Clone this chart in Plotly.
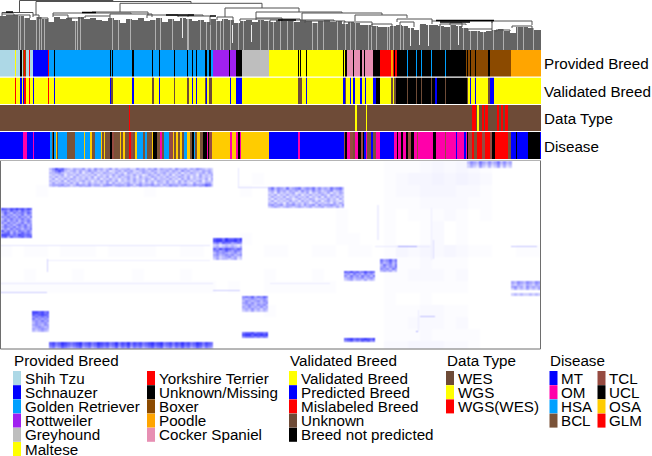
import numpy as np
import plotly.graph_objects as go

W, H = 652, 456
N = 541

# ---------- legend categories ----------
provided_names = {"ST": "Shih Tzu", "SC": "Schnauzer", "GR": "Golden Retriever", "RO": "Rottweiler",
                  "GH": "Greyhound", "MA": "Maltese", "YT": "Yorkshire Terrier", "UN": "Unknown/Missing",
                  "BX": "Boxer", "PO": "Poodle", "CS": "Cocker Spaniel"}
provided_colors = {"ST": "#add8e6", "SC": "#0000ff", "GR": "#00a0ff", "RO": "#a020f0", "GH": "#bebebe",
                   "MA": "#ffff00", "YT": "#ff0000", "UN": "#000000", "BX": "#8b4a00", "PO": "#ffa500",
                   "CS": "#e78fb3"}
validated_names = {"VB": "Validated Breed", "PB": "Predicted Breed", "ML": "Mislabeled Breed",
                   "UK": "Unknown", "NP": "Breed not predicted"}
validated_colors = {"VB": "#ffff00", "PB": "#0000ff", "ML": "#ff0000", "UK": "#6e4b37", "NP": "#000000"}
datatype_names = {"WES": "WES", "WGS": "WGS", "WW": "WGS(WES)"}
datatype_colors = {"WES": "#6e4b37", "WGS": "#ffff00", "WW": "#ff0000"}
disease_names = {"MT": "MT", "OM": "OM", "HSA": "HSA", "BCL": "BCL", "TCL": "TCL", "UCL": "UCL",
                 "OSA": "OSA", "GLM": "GLM"}
disease_colors = {"MT": "#0000ff", "OM": "#ff00aa", "HSA": "#00a0ff", "BCL": "#7a5238", "TCL": "#964b41",
                  "UCL": "#000000", "OSA": "#ffcc00", "GLM": "#ff0000"}

# ---------- annotation tracks: (category, last sample of the run) ----------
provided_runs = [("ST", 15), ("MA", 16), ("ST", 20), ("UN", 22), ("ST", 23), ("BX", 24), ("YT", 25), ("BX", 26),
                 ("ST", 29), ("YT", 30), ("ST", 33), ("SC", 48), ("YT", 49), ("GR", 54), ("UN", 55), ("GR", 110),
                 ("UN", 111), ("GR", 112), ("UN", 113), ("GR", 132), ("UN", 134), ("GR", 152), ("UN", 153),
                 ("GR", 159), ("UN", 160), ("GR", 174), ("UN", 175), ("GR", 187), ("UN", 188), ("GR", 192),
                 ("UN", 193), ("GR", 196), ("UN", 197), ("GR", 205), ("UN", 207), ("GR", 209), ("UN", 211),
                 ("GR", 213), ("RO", 229), ("UN", 230), ("RO", 236), ("UN", 242), ("GH", 269), ("MA", 298),
                 ("UN", 299), ("MA", 300), ("UN", 301), ("MA", 306), ("UN", 307), ("MA", 343), ("UN", 344),
                 ("MA", 345), ("UN", 347), ("CS", 353), ("UN", 354), ("CS", 360), ("UN", 362), ("CS", 364),
                 ("UN", 365), ("CS", 373), ("UN", 380), ("YT", 391), ("PO", 393), ("YT", 394), ("UN", 395),
                 ("YT", 397), ("UN", 407), ("GR", 408), ("UN", 416), ("GR", 417), ("UN", 421), ("GR", 422),
                 ("UN", 431), ("GR", 432), ("UN", 445), ("GR", 446), ("UN", 466), ("BX", 467), ("UN", 468),
                 ("BX", 470), ("UN", 471), ("BX", 475), ("UN", 476), ("BX", 488), ("UN", 490), ("BX", 511),
                 ("PO", 541)]
validated_runs = [("VB", 15), ("ML", 16), ("VB", 20), ("PB", 22), ("VB", 23), ("PB", 24), ("ML", 26), ("VB", 29),
                  ("ML", 30), ("VB", 33), ("PB", 34), ("VB", 48), ("ML", 49), ("VB", 54), ("PB", 55), ("VB", 110),
                  ("PB", 111), ("UK", 113), ("VB", 132), ("PB", 134), ("VB", 152), ("UK", 154), ("VB", 159),
                  ("PB", 160), ("VB", 174), ("UK", 175), ("VB", 187), ("UK", 189), ("VB", 192), ("PB", 193),
                  ("VB", 196), ("PB", 197), ("VB", 205), ("UK", 206), ("PB", 207), ("VB", 209), ("UK", 212),
                  ("VB", 230), ("PB", 231), ("VB", 236), ("PB", 242), ("VB", 298), ("UK", 302), ("VB", 306),
                  ("PB", 307), ("VB", 343), ("PB", 345), ("UK", 346), ("VB", 350), ("PB", 351), ("VB", 353),
                  ("PB", 355), ("VB", 360), ("PB", 362), ("VB", 365), ("PB", 366), ("VB", 373), ("PB", 376),
                  ("NP", 380), ("VB", 391), ("UK", 393), ("VB", 394), ("UK", 396), ("NP", 407), ("UK", 408),
                  ("NP", 416), ("UK", 417), ("NP", 421), ("UK", 422), ("NP", 431), ("UK", 432), ("NP", 435),
                  ("PB", 437), ("NP", 445), ("UK", 446), ("NP", 467), ("UK", 468), ("VB", 470), ("PB", 471),
                  ("VB", 475), ("PB", 476), ("VB", 488), ("UK", 490), ("PB", 494), ("VB", 541)]
datatype_runs = [("WES", 129), ("WW", 130), ("WES", 355), ("WGS", 357), ("WES", 366), ("WGS", 367), ("WES", 472),
                 ("WW", 476), ("WES", 477), ("WGS", 479), ("WES", 482), ("WW", 484), ("WES", 485), ("WW", 488),
                 ("WES", 497), ("WW", 499), ("WES", 501), ("WW", 503), ("WES", 505), ("WW", 508), ("WES", 541)]
disease_runs = [("MT", 23), ("OM", 27), ("MT", 33), ("OM", 34), ("MT", 50), ("HSA", 52), ("BCL", 53), ("UCL", 54),
                ("HSA", 56), ("OSA", 57), ("BCL", 58), ("HSA", 67), ("BCL", 75), ("HSA", 84), ("OSA", 85),
                ("HSA", 90), ("OSA", 92), ("BCL", 95), ("HSA", 101), ("OSA", 102), ("BCL", 104), ("OSA", 105),
                ("BCL", 110), ("UCL", 112), ("TCL", 114), ("BCL", 120), ("OSA", 121), ("BCL", 123), ("OSA", 125),
                ("BCL", 129), ("GLM", 131), ("TCL", 133), ("BCL", 135), ("OSA", 137), ("HSA", 143), ("BCL", 145),
                ("HSA", 147), ("BCL", 152), ("OSA", 153), ("UCL", 157), ("BCL", 160), ("OM", 162), ("BCL", 164),
                ("HSA", 169), ("TCL", 173), ("OSA", 174), ("BCL", 176), ("OSA", 178), ("BCL", 180), ("OSA", 182),
                ("BCL", 184), ("HSA", 187), ("OSA", 190), ("BCL", 192), ("UCL", 194), ("HSA", 195), ("BCL", 197),
                ("OSA", 200), ("BCL", 203), ("UCL", 207), ("OM", 208), ("UCL", 209), ("TCL", 212), ("OSA", 230),
                ("OM", 232), ("OSA", 236), ("OM", 238), ("UCL", 240), ("OM", 241), ("OSA", 269), ("MT", 298),
                ("OM", 300), ("MT", 344), ("TCL", 345), ("UCL", 347), ("OM", 350), ("TCL", 353), ("BCL", 355),
                ("OM", 358), ("UCL", 361), ("TCL", 363), ("UCL", 364), ("MT", 366), ("OM", 367), ("BCL", 371),
                ("MT", 373), ("BCL", 376), ("OM", 380), ("MT", 394), ("OM", 397), ("UCL", 398), ("OM", 401),
                ("UCL", 403), ("OM", 406), ("UCL", 408), ("TCL", 411), ("UCL", 414), ("OM", 417), ("TCL", 418),
                ("OM", 433), ("UCL", 436), ("OM", 445), ("TCL", 446), ("OM", 456), ("MT", 457), ("OM", 464),
                ("MT", 466), ("OM", 467), ("UCL", 468), ("TCL", 472), ("GLM", 474), ("BCL", 477), ("GLM", 482),
                ("TCL", 485), ("GLM", 490), ("TCL", 492), ("UCL", 495), ("GLM", 508), ("BCL", 511), ("MT", 516),
                ("UCL", 517), ("MT", 528), ("UCL", 540), ("MT", 541)]

# ---------- dendrogram, read in picture rows from the top ----------
# one merge per entry: left leg x, right leg x, bar y, left leg foot, right leg foot
merges = [(19.5, 113, 0.5, 12, 1.5), (36, 191, 1.5, 15, 3.3), (120, 262, 3.3, 12, 8), (225, 299, 8, 17, 12),
          (256, 342, 12, 18, 13), (302, 382, 13, 20, 15), (355, 407, 15, 21, 18),
          (2, 33, 12.5, 14, 15), (2, 14, 14, 16, 15), (14, 30, 15, 16, 18), (33, 39, 15, 17, 18), (39, 48, 18, 19, 22),
          (92, 148, 12, 13, 15), (53, 131, 13, 15, 14), (53, 68, 15, 17, 18), (68, 82, 18, 20, 19),
          (110, 152, 14, 16, 17), (85, 110, 16, 18, 18), (147, 178, 15, 18, 16), (178, 210, 16, 17, 25),
          (188, 203, 15, 17, 16), (217, 233, 17, 20, 20), (240, 300, 19, 21, 20), (256, 282, 18, 20, 21),
          (270, 334, 20, 22, 21), (305, 345, 21, 23, 22), (344, 372, 22, 24, 25), (372, 392, 24, 27, 27),
          (397, 432, 19, 22, 21), (400, 414, 22, 25, 27), (432, 492, 21, 24, 23), (440, 466, 24, 26, 25),
          (450, 462, 23, 25, 27), (492, 532, 21, 29, 25), (468, 492, 29, 31, 31), (496, 510, 30, 32, 31),
          (512, 532, 26, 28, 28)]
# stretches where many bars pile up and read as black: first x, last x, y
black_bars = [(6, 13, 12), (82, 96, 12.5), (166, 194, 15), (210, 216, 16), (278, 296, 20), (436, 494, 20.5),
              (440, 470, 22)]
# leaf tops, one reading for every 6 samples
leaf_tops = [16, 15, 15, 16, 18, 20, 17, 19, 22, 17, 19, 18, 21, 17, 19, 18, 20, 21, 18, 20, 23, 19, 20, 18,
             21, 20, 18, 22, 19, 21, 18, 19, 21, 20, 22, 19, 21, 19, 20, 23, 21, 20, 22, 20, 21, 22, 20, 21,
             21, 22, 20, 21, 23, 21, 20, 22, 21, 24, 22, 23, 25, 25, 26, 27, 27, 26, 25, 26, 28, 30, 24, 25,
             25, 26, 27, 25, 26, 28, 31, 31, 32, 31, 30, 29, 31, 33, 27, 27, 28, 30, 30]
light_leaves = [18, 20, 24, 36, 39, 41, 44, 75, 77, 80, 112, 118, 130, 155, 160, 172, 187, 188, 200, 206, 210, 216,
                220, 223, 230, 238, 243, 260, 268, 273, 280, 287, 293, 312, 317, 323, 337, 345, 350, 355, 368, 371,
                376, 387, 389, 393, 400, 403, 440, 450, 463, 470, 477, 483, 493, 503, 517, 523, 533]
pale_x = [182, 232, 251, 410, 419, 428, 458]
pale_top = [17, 25, 25, 28, 25, 25, 25]
pale_foot = [38, 43, 42, 46, 45, 46, 45]

# ---------- main matrix ----------
# blocks by sample range and row range; each block's shade is estimated cell by cell (0 pale .. 9 deep)
block_samples = [(49, 213), (268, 344), (1, 32), (213, 242), (242, 268), (242, 268), (32, 49), (49, 213),
                 (467, 512), (380, 397), (344, 375), (344, 375), (511, 541), (511, 541)]
block_rows = [(7, 26), (26, 47), (47, 77), (77, 99), (135, 151), (171, 177), (150, 171), (181, 188),
              (0, 7), (98, 111), (110, 120), (177, 181), (120, 129), (132, 135)]
golden_top = ["3586743243352425342352423342253424352433425334243543232",
              "2468632342423534232412342434223432432334243253423324342",
              "3345323232413242324332423143232433242342332413243234243",
              "2323413324232324132324234232423124324232413242323142324",
              "3242323142323241332413242342314232432324232432413242323",
              "2413242432324232413242313242423243142332423142423232414",
              "3232414232342313242432413232423142324324231424232341323",
              "2423332424132423232414232342324232413324232423214232442",
              "3444534235443534424553444354245344534243544345335445763",
              "2324343232434423334322343342324332343323434232333243542"]
maltese = ["46354363456345463534364563",
           "34253424342534253423452342",
           "23142323412324132432413243",
           "32413242324132423243143232",
           "24232413242324132414232423",
           "31423243124232431232423142",
           "24132324231423242413423213",
           "32423142423243124232314243",
           "45345244534253452534454325",
           "23432343234323423342332423"]
shih_tzu = ["87687978687", "56475647564", "47536456475", "36453546354", "54645364536",
            "35464546453", "46354635464", "53645346354", "36453564635", "46546354645",
            "35364653546", "74645365464", "56736457564", "88756587676", "67475567567"]
rottweiler = ["7886977879", "8997988978", "5647664565", "2312323212", "3423434324",
              "7586876576", "5645754654", "3545434534", "4534545345", "3423453423", "2423323412"]
greyhound_a = ["565746575", "434543453", "354345354", "453534345", "345435453", "435343534", "343534243", "232423232"]
greyhound_b = ["677867767", "899798989", "566656565"]
schnauzer = ["887867", "767876", "565656", "645454", "454645", "354453", "454354", "345434", "434543", "323432"]
golden_low = ["7867987678967867987867968796878678978967868797867986876",
              "6756876567856756876756857685767567867856757686756875765",
              "4534654345634534654534635463545345645634535464534653543"]
poodle_top = ["354364353463534", "243253242352423", "232142131241312"]
boxer_mid = ["645746", "534635", "364536", "453546", "545364", "343423"]
cocker_a = ["76867568676", "45364536453", "53645364536", "34534453453", "23423324232"]
cocker_b = ["78978789879", "56756576756"]
poodle_a = ["4354354354", "3243243243", "4534253434", "2423242324"]
poodle_b = ["2323223232"]
block_cells = [golden_top, maltese, shih_tzu, rottweiler, greyhound_a, greyhound_b, schnauzer, golden_low,
               poodle_top, boxer_mid, cocker_a, cocker_b, poodle_a, poodle_b]

# background tint, one digit for every 12 samples by 12 rows
background = ["000000000000000000000000000000001112323210000",
              "000000000000000000000100000000001233434320000",
              "000100000000100000001000000000001223332210000",
              "000000000000000000000000000000001112222110000",
              "000000000000000000000000000010001011121010000",
              "000000000000000000000000000010001001201000000",
              "000000000000000000001000000011001001201000000",
              "101101110111100110100011001101101323232110011",
              "000000000000000000000000000000001112111000000",
              "001000100001000100000010001000001122212000000",
              "111111111111111111010011111100001111111000000",
              "000000000000000000000000000000001001000000000",
              "000000000000000000000010000000001112211000000",
              "000000000000000000000000000000001122212000000",
              "000000000000000000000000000000001112111100000",
              "000000000000000000000000000000002233322100000"]
# thin weak rows and columns outside the blocks
faint_samples = [(0, 210), (47, 210), (0, 213), (0, 47), (213, 240), (47, 48), (238, 239), (238, 268), (377, 379),
                 (431, 432), (433, 434), (375, 430), (398, 417), (511, 537), (418, 419), (420, 435), (416, 418),
                 (270, 330)]
faint_rows = [(84, 85), (99, 100), (122, 123), (131, 132), (129, 130), (98, 111), (7, 27), (26, 27), (44, 79),
              (47, 99), (79, 98), (85, 86), (85, 86), (85, 86), (149, 170), (155, 156), (170, 171), (122, 123)]
faint_strength = [0.1, 0.07, 0.09, 0.2, 0.2, 0.18, 0.1, 0.14, 0.07, 0.07, 0.14, 0.09, 0.35, 0.22, 0.08, 0.25, 0.35,
                  0.08]


def expand(runs, codes):
    out, start = [], 0
    for code, end in runs:
        out += [codes.index(code)] * (end - start)
        start = end
    return out


def box(px_top, px_bottom):
    return [1 - px_bottom / H, 1 - px_top / H]


def soften(a):
    # the source figure is a shrunken raster, so neighbouring cells bleed into each other
    kernel = np.array([1, 2, 1]) / 4
    a = np.apply_along_axis(lambda v: np.convolve(v, kernel, mode="same"), 1, a)
    return np.apply_along_axis(lambda v: np.convolve(v, kernel, mode="same"), 0, a)


tracks = [(provided_runs, provided_colors, 50, 76.5, "Provided Breed", 63),
          (validated_runs, validated_colors, 77.5, 104, "Validated Breed", 91),
          (datatype_runs, datatype_colors, 105, 131, "Data Type", 118),
          (disease_runs, disease_colors, 132, 159, "Disease", 146)]

fig = go.Figure()
layout_axes = {"xaxis": dict(domain=[0, N / W], range=[0, N], visible=False, fixedrange=True)}
annotations, shapes = [], []

# dendrogram traces
xs, ys = [], []
for i, top in enumerate(leaf_tops):
    for s in range(i * 6, min(i * 6 + 6, N)):
        if s not in light_leaves:
            xs += [s + 0.5, s + 0.5, None]
            ys += [top, 50, None]
fig.add_trace(go.Scatter(x=xs, y=ys, mode="lines", line=dict(color="#646464", width=1), hoverinfo="skip"))
xs, ys = [], []
for s in light_leaves:
    top = leaf_tops[s // 6]
    xs += [s + 0.5, s + 0.5, None]
    ys += [top, 50, None]
fig.add_trace(go.Scatter(x=xs, y=ys, mode="lines", line=dict(color="#b0b0b0", width=1), hoverinfo="skip"))
xs, ys = [], []
for x, t, b in zip(pale_x, pale_top, pale_foot):
    xs += [x + 0.5, x + 0.5, None]
    ys += [t, b, None]
fig.add_trace(go.Scatter(x=xs, y=ys, mode="lines", line=dict(color="#ececec", width=1), hoverinfo="skip"))
xs, ys = [], []
for xl, xr, y, yl, yr in merges:
    xs += [xl, xl, xr, xr, None]
    ys += [yl, y, y, yr, None]
fig.add_trace(go.Scatter(x=xs, y=ys, mode="lines", line=dict(color="#505050", width=1), hoverinfo="skip"))
xs, ys = [], []
for x0, x1, y in black_bars:
    xs += [x0, x1, None]
    ys += [y, y, None]
fig.add_trace(go.Scatter(x=xs, y=ys, mode="lines", line=dict(color="#000000", width=1.5), hoverinfo="skip"))
layout_axes["yaxis"] = dict(domain=box(0, 50), range=[50, 0], visible=False, fixedrange=True, anchor="x")

# annotation tracks
for k, (runs, colors, top, bottom, label, label_y) in enumerate(tracks, start=2):
    codes = list(colors)
    n = len(codes)
    scale = []
    for i, c in enumerate(codes):
        scale += [[i / n, colors[c]], [(i + 1) / n, colors[c]]]
    fig.add_trace(go.Heatmap(z=[expand(runs, codes)], x0=0.5, dx=1, y=[0], zmin=0, zmax=n - 0.001 * n,
                             colorscale=scale, showscale=False, hoverinfo="skip", yaxis=f"y{k}"))
    layout_axes[f"yaxis{k}"] = dict(domain=box(top, bottom), range=[-0.5, 0.5], visible=False,
                                    fixedrange=True, anchor="x")
    annotations.append(dict(text=label, x=541.5 / W, y=1 - label_y / H, xref="paper", yref="paper",
                            xanchor="left", yanchor="middle", showarrow=False))

# main matrix
matrix = np.zeros((188, N))
for r, line in enumerate(background):
    for c, d in enumerate(line):
        matrix[r * 12:(r + 1) * 12, c * 12:(c + 1) * 12] = int(d) * 0.012
for (c0, c1), (r0, r1), v in zip(faint_samples, faint_rows, faint_strength):
    matrix[r0:r1, c0:c1] = v
for (c0, c1), (r0, r1), cells in zip(block_samples, block_rows, block_cells):
    for r in range(r0, r1):
        line = cells[(r - r0) * len(cells) // (r1 - r0)]
        for c in range(c0, c1):
            matrix[r, c] = int(line[(c - c0) * len(line) // (c1 - c0)]) * 0.088
matrix = soften(matrix)
fig.add_trace(go.Heatmap(z=matrix, x0=0.5, dx=1, y0=0.5, dy=1, zmin=0, zmax=1,
                         colorscale=[[0, "#ffffff"], [1, "#0000ff"]], showscale=False, hoverinfo="skip", yaxis="y6"))
layout_axes["yaxis6"] = dict(domain=box(161, 349), range=[188, 0], visible=False, fixedrange=True, anchor="x")
shapes.append(dict(type="rect", xref="paper", yref="paper", x0=0.5 / W, x1=540.5 / W, y0=1 - 349 / H, y1=1 - 160.5 / H,
                   line=dict(color="#6e6e6e", width=1), fillcolor="rgba(0,0,0,0)"))
shapes.append(dict(type="line", xref="paper", yref="paper", x0=0, x1=541 / W, y0=1 - 160.5 / H, y1=1 - 160.5 / H,
                   line=dict(color="#b4b4b4", width=1)))


# legends
def legend_column(names, colors, x_swatch, first_row, row_step=14.2):
    for i, code in enumerate(names):
        y = first_row + i * row_step
        shapes.append(dict(type="rect", xref="paper", yref="paper", x0=x_swatch / W, x1=(x_swatch + 8) / W,
                           y0=1 - (y + 7) / H, y1=1 - (y - 7) / H, fillcolor=colors[code], line=dict(width=0)))
        annotations.append(dict(text=names[code], x=(x_swatch + 9.5) / W, y=1 - y / H, xref="paper", yref="paper",
                                xanchor="left", yanchor="middle", showarrow=False))


def legend_header(text, x):
    annotations.append(dict(text=text, x=(x - 1.5) / W, y=1 - 360 / H, xref="paper", yref="paper",
                            xanchor="left", yanchor="middle", showarrow=False))


def subset(d, keys):
    return {k: d[k] for k in keys}


legend_header("Provided Breed", 13)
legend_column(subset(provided_names, ["ST", "SC", "GR", "RO", "GH", "MA"]), provided_colors, 13, 378)
legend_column(subset(provided_names, ["YT", "UN", "BX", "PO", "CS"]), provided_colors, 147, 378)
legend_header("Validated Breed", 289)
legend_column(validated_names, validated_colors, 289, 378)
legend_header("Data Type", 446)
legend_column(datatype_names, datatype_colors, 446, 378)
legend_header("Disease", 549.5)
legend_column(subset(disease_names, ["MT", "OM", "HSA", "BCL"]), disease_colors, 549.5, 378)
legend_column(subset(disease_names, ["TCL", "UCL", "OSA", "GLM"]), disease_colors, 597.5, 378)

fig.update_layout(width=W, height=H, margin=dict(l=0, r=0, t=0, b=0), showlegend=False,
                  paper_bgcolor="white", plot_bgcolor="white",
                  font=dict(family="Liberation Sans", size=15.2, color="#000000"),
                  annotations=annotations, shapes=shapes, **layout_axes)

fig.write_html("out.html", config={"displayModeBar": False}, post_script="document.body.style.margin='0';")
